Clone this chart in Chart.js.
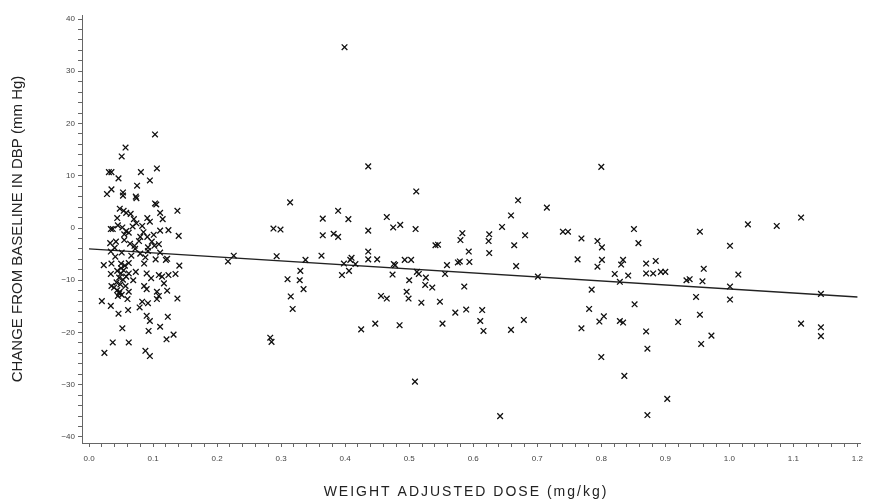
<!DOCTYPE html>
<html>
<head>
<meta charset="utf-8">
<script src="https://cdn.jsdelivr.net/npm/chart.js@4.4.1/dist/chart.umd.min.js"></script>
<style>
  html, body { margin: 0; padding: 0; background: #fff; }
  #wrap { width: 870px; height: 502px; }
</style>
</head>
<body>
<div id="wrap"><canvas id="doseChart" width="870" height="502"></canvas></div>
<script>
// Scatter: change from baseline in DBP vs weight adjusted dose
const xTitle = 'WEIGHT ADJUSTED DOSE (mg/kg)';
const yTitle = 'CHANGE FROM BASELINE IN DBP (mm Hg)';

const xTickLabels = ['0.0', '0.1', '0.2', '0.3', '0.4', '0.5', '0.6', '0.7', '0.8', '0.9', '1.0', '1.1', '1.2'];
const yTickLabels = ['-40', '-30', '-20', '-10', '0', '10', '20', '30', '40'];

const doseX = [
  0.103, 0.057, 0.051, 0.031, 0.035, 0.106, 0.081, 0.046, 0.095, 0.028, 0.035, 0.053, 0.053, 0.075, 0.073, 0.074,
  0.103, 0.105, 0.138, 0.048, 0.054, 0.058, 0.044, 0.065, 0.070, 0.091, 0.111, 0.115, 0.074, 0.083, 0.095, 0.034,
  0.037, 0.052, 0.058, 0.124, 0.111, 0.140, 0.080, 0.091, 0.101, 0.033, 0.042, 0.055, 0.071, 0.092, 0.102, 0.109,
  0.034, 0.051, 0.080, 0.092, 0.111, 0.120, 0.023, 0.035, 0.050, 0.062, 0.086, 0.104, 0.141, 0.034, 0.050, 0.054,
  0.050, 0.062, 0.073, 0.090, 0.109, 0.114, 0.124, 0.135, 0.069, 0.035, 0.039, 0.044, 0.048, 0.047, 0.057, 0.062,
  0.086, 0.090, 0.106, 0.122, 0.109, 0.106, 0.138, 0.060, 0.020, 0.034, 0.083, 0.092, 0.079, 0.046, 0.061, 0.090,
  0.095, 0.123, 0.052, 0.093, 0.111, 0.121, 0.132, 0.037, 0.062, 0.024, 0.088, 0.095,
  0.047, 0.043, 0.053, 0.045, 0.051, 0.056, 0.041, 0.066, 0.072, 0.078, 0.085, 0.098, 0.062, 0.068, 0.055, 0.045, 0.122,
  0.049, 0.044, 0.058, 0.040, 0.064, 0.088, 0.097, 0.117,
  0.217, 0.226, 0.283, 0.285, 0.288, 0.299, 0.293, 0.310, 0.314, 0.315, 0.318, 0.329, 0.330, 0.335, 0.338, 0.363,
  0.365, 0.365, 0.382, 0.389, 0.389, 0.395, 0.398, 0.399, 0.405, 0.406, 0.408, 0.410, 0.416, 0.425, 0.436, 0.436,
  0.436, 0.436, 0.447, 0.450, 0.456, 0.465, 0.465, 0.474, 0.475, 0.476, 0.478, 0.485, 0.486, 0.493, 0.496, 0.499,
  0.500, 0.503, 0.509, 0.510, 0.511, 0.512,
  0.515, 0.519, 0.525, 0.526, 0.536, 0.541, 0.545, 0.548, 0.552, 0.556, 0.559, 0.572, 0.576, 0.579, 0.580, 0.583,
  0.586, 0.589, 0.593, 0.594, 0.611, 0.614, 0.616, 0.624, 0.625, 0.625, 0.642, 0.645, 0.659, 0.659, 0.664, 0.667,
  0.670, 0.679, 0.681, 0.701, 0.715, 0.740, 0.748, 0.763, 0.769, 0.769, 0.781, 0.785, 0.794, 0.794, 0.797, 0.800,
  0.800, 0.801, 0.801, 0.804, 0.821,
  0.829, 0.829, 0.831, 0.834, 0.834, 0.836, 0.842, 0.851, 0.852, 0.858, 0.870, 0.870, 0.870, 0.872, 0.872, 0.881,
  0.885, 0.893, 0.900, 0.903, 0.920, 0.933, 0.938, 0.948, 0.954, 0.954, 0.956, 0.958, 0.960, 0.972, 1.001, 1.001,
  1.001, 1.014, 1.029, 1.074, 1.112, 1.112, 1.143, 1.143, 1.143
];
const dbpY = [
  17.9, 15.4, 13.7, 10.7, 10.7, 11.4, 10.7, 9.5, 9.1, 6.5, 7.4, 6.8, 6.2, 8.1, 6.0, 5.7,
  4.7, 4.5, 3.3, 3.7, 3.3, 2.9, 1.9, 2.7, 1.7, 1.9, 2.9, 1.7, 0.9, 0.4, 1.2, -0.2,
  -0.2, 0.1, -0.6, -0.4, -0.5, -1.5, -1.7, -1.7, -1.3, -2.9, -2.6, -2.3, -3.4, -3.7, -3.4, -3.1,
  -4.5, -4.7, -4.9, -4.4, -4.7, -6.1, -7.1, -6.8, -6.8, -6.7, -6.8, -6.0, -7.2, -8.8, -7.7, -8.1,
  -8.7, -8.7, -8.4, -8.7, -9.0, -9.3, -9.0, -8.8, -10.0, -11.1, -11.4, -11.9, -12.2, -12.5, -11.1, -12.2,
  -11.1, -11.7, -12.2, -12.0, -13.0, -13.6, -13.5, -13.6, -14.0, -14.9, -14.1, -14.4, -15.2, -16.4, -15.7, -16.8,
  -17.8, -17.0, -19.2, -19.7, -18.9, -21.3, -20.4, -21.9, -21.9, -23.9, -23.5, -24.5,
  -9.5, -10.4, -9.9, -13.0, -12.8, -7.2, -5.5, -5.3, -4.0, -2.5, -0.8, -2.6, -0.9, 0.3, -1.2, 0.5, -5.9,
  -10.8, -8.2, -9.3, -3.8, -3.0, -5.6, -9.6, -10.6,
  -6.4, -5.3, -21.0, -21.8, -0.1, -0.3, -5.4, -9.8, 4.9, -13.1, -15.5, -10.0, -8.2, -11.7, -6.1, -5.3,
  1.8, -1.4, -1.1, 3.3, -1.7, -9.0, -6.8, 34.6, 1.7, -8.2, -6.1, -5.7, -6.9, -19.4, 11.8, -0.5,
  -4.5, -6.0, -18.3, -6.0, -13.0, 2.1, -13.5, -8.9, 0.1, -6.9, -7.1, -18.6, 0.6, -6.1, -12.2, -13.5,
  -10.0, -6.1, -29.4, -0.2, 7.0, -8.4,
  -8.8, -14.3, -10.9, -9.5, -11.4, -3.3, -3.2, -14.1, -18.3, -8.8, -7.1, -16.2, -6.6, -6.4, -2.3, -1.0,
  -11.2, -15.6, -4.5, -6.5, -17.8, -15.7, -19.7, -2.5, -1.2, -4.8, -36.0, 0.2, 2.4, -19.5, -3.3, -7.3,
  5.3, -17.6, -1.4, -9.3, 3.9, -0.7, -0.7, -6.0, -2.0, -19.2, -15.5, -11.8, -2.5, -7.4, -17.9, 11.7,
  -24.7, -3.7, -6.1, -16.9, -8.8,
  -10.3, -17.8, -7.0, -6.1, -18.1, -28.3, -9.1, -0.2, -14.6, -2.9, -6.8, -8.7, -19.8, -23.1, -35.8, -8.7,
  -6.3, -8.4, -8.4, -32.7, -18.0, -10.0, -9.8, -13.2, -0.7, -16.6, -22.2, -10.2, -7.8, -20.6, -3.4, -11.2,
  -13.7, -8.9, 0.7, 0.4, 2.0, -18.3, -12.6, -19.0, -20.7
];

// fitted regression line end points
const fitX = [0.0, 1.2];
const fitY = [-4.0, -13.2];

const xMajor = xTickLabels.map(Number);
const yMajor = yTickLabels.map(Number);

// major ticks plus 4 minor ticks between each pair
function withMinor(majors) {
    const out = [];
    for (let i = 0; i < majors.length - 1; i++) {
        const step = (majors[i + 1] - majors[i]) / 5;
        for (let k = 0; k < 5; k++) out.push({ value: majors[i] + k * step });
    }
    out.push({ value: majors[majors.length - 1] });
    return out;
}

function majorLabel(majors, labels, value) {
    const i = majors.findIndex(m => Math.abs(m - value) < 1e-6);
    return i >= 0 ? labels[i].replace('-', '\u2212') : '';
}

const titlesPlugin = {
    id: 'axisTitles',
    afterDraw(chart) {
        const ctx = chart.ctx;
        ctx.save();
        ctx.fillStyle = '#222';
        ctx.textAlign = 'center';
        ctx.textBaseline = 'middle';
        ctx.font = '14px "Liberation Sans", Arial, sans-serif';
        if ('letterSpacing' in ctx) ctx.letterSpacing = '2px';
        ctx.fillText(xTitle, 466, 492);
        if ('letterSpacing' in ctx) ctx.letterSpacing = '0px';
        ctx.translate(18, 229);
        ctx.rotate(-Math.PI / 2);
        ctx.font = '15px "Liberation Sans", Arial, sans-serif';
        ctx.fillText(yTitle, 0, 0);
        ctx.restore();
    }
};

window.addEventListener('DOMContentLoaded', function () {
    const ctx = document.getElementById('doseChart').getContext('2d');
    new Chart(ctx, {
        type: 'scatter',
        data: {
            datasets: [
                {
                    label: 'Subjects',
                    data: doseX.map((x, i) => ({ x: x, y: dbpY[i] })),
                    pointStyle: 'crossRot',
                    pointRadius: 4,
                    pointBorderWidth: 1.3,
                    borderColor: '#111',
                    backgroundColor: '#111'
                },
                {
                    label: 'Fit',
                    data: fitX.map((x, i) => ({ x: x, y: fitY[i] })),
                    showLine: true,
                    pointRadius: 0,
                    borderColor: '#222',
                    borderWidth: 1.4
                }
            ]
        },
        options: {
            responsive: false,
            animation: false,
            events: [],
            layout: { padding: { top: 15, right: 4, left: 0, bottom: 0 } },
            plugins: {
                legend: { display: false },
                tooltip: { enabled: false }
            },
            scales: {
                x: {
                    type: 'linear',
                    min: -0.011,
                    max: 1.205,
                    afterBuildTicks: axis => { axis.ticks = withMinor(xMajor); },
                    afterFit: axis => { axis.height = 59; },
                    grid: { drawOnChartArea: false, drawTicks: true, tickLength: 4, color: '#666' },
                    border: { display: true, color: '#666', width: 1 },
                    ticks: {
                        autoSkip: false,
                        maxRotation: 0,
                        padding: 7,
                        color: '#444',
                        font: { size: 8, family: '"Liberation Sans", Arial, sans-serif' },
                        callback: value => majorLabel(xMajor, xTickLabels, value)
                    }
                },
                y: {
                    type: 'linear',
                    min: -41.15,
                    max: 40.77,
                    afterBuildTicks: axis => { axis.ticks = withMinor(yMajor); },
                    afterFit: axis => { axis.width = 82; },
                    grid: { drawOnChartArea: false, drawTicks: true, tickLength: 4, color: '#666' },
                    border: { display: true, color: '#666', width: 1 },
                    ticks: {
                        autoSkip: false,
                        padding: 3,
                        color: '#444',
                        font: { size: 8, family: '"Liberation Sans", Arial, sans-serif' },
                        callback: value => majorLabel(yMajor, yTickLabels, value)
                    }
                }
            }
        },
        plugins: [titlesPlugin]
    });
});
</script>
</body>
</html>
